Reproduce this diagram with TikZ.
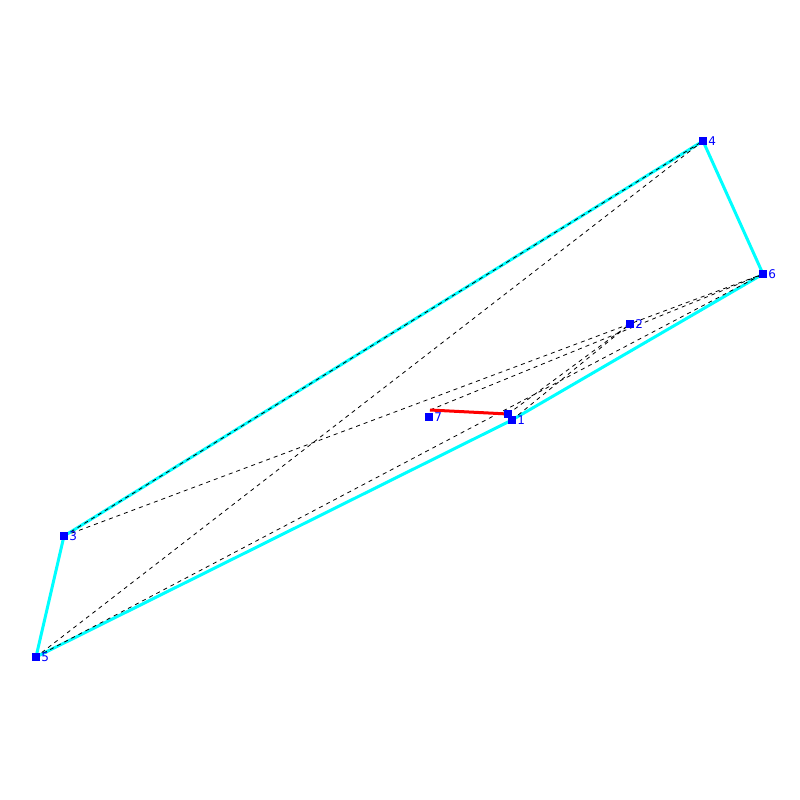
\documentclass[tikz,border=0pt]{standalone}
\usepackage{fontspec}
\setsansfont{DejaVu Sans}
\definecolor{hullcyan}{RGB}{0,255,255}
\tikzset{
    pt/.style={fill=blue, inner sep=0pt, minimum size=8pt},
    lbl/.style={right, blue, inner sep=1pt, font=\sffamily\fontsize{12}{12}\selectfont},
    hull/.style={hullcyan, line width=3pt},
    diag/.style={black, line width=0.8pt, dash pattern=on 4pt off 4pt},
}
\begin{document}
\begin{tikzpicture}[x=1pt, y=-1pt]

    % 1. Canvas and points (pixel coordinates, y downwards)
    \useasboundingbox (0,0) rectangle (800,800);

    \coordinate (P0) at (508,414);
    \coordinate (P1) at (512,420);
    \coordinate (P2) at (630,324);
    \coordinate (P3) at (64,536);
    \coordinate (P4) at (703,141);
    \coordinate (P5) at (36,657);
    \coordinate (P6) at (763,274);
    \coordinate (P7) at (429,417);
    \coordinate (R) at (430,410);

    % 2. Hull edges
    \draw[hull] (P5) -- (P1) -- (P6) -- (P4) -- (P3) -- cycle;

    % 3. Dashed segments
    \draw[diag] (P3) -- (P4);
    \draw[diag] (P4) -- (P5);
    \draw[diag] (P3) -- (P6);
    \draw[diag] (P5) -- (P6);
    \draw[diag] (R) -- (P6);
    \draw[diag] (P1) -- (P2);
    \draw[diag] (P0) -- (P2);

    % 4. Red segment
    \draw[red, line width=3pt] (R) -- (P0);

    % 5. Points and labels
    \node[pt] (n0) at (P0) {};
    \foreach \i in {1,...,7} {
        \node[pt] (n\i) at (P\i) {};
        \node[lbl] (l\i) at (n\i.east) {\i};
    }

\end{tikzpicture}
\end{document}
